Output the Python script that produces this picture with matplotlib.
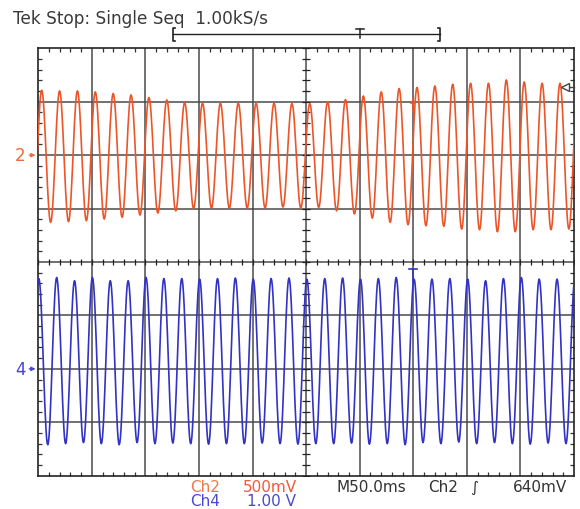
import matplotlib
matplotlib.use('Agg')
import matplotlib.pyplot as plt
import numpy as np
from matplotlib.ticker import MultipleLocator

# scope settings
time_per_div = 50.0        # ms / div  (M50.0ms)
ch2_volts_per_div = 0.5    # 500mV
ch4_volts_per_div = 1.0    # 1.00 V
ch2_position = 2.0         # div above centre
ch4_position = -2.0        # div below centre
trigger_level = 0.64       # V, Ch2 rising
trigger_time = 349.7       # ms from left edge

period_ms = 16.68
ch2_first_peak_ms = 3.17
ch4_first_peak_ms = 0.47

# Ch2 (orange) peak / trough heights per cycle, volts from its ground line
ch2_peaks_v = [0.607, 0.601, 0.601, 0.592, 0.577, 0.564, 0.539, 0.517, 0.493, 0.486,
               0.486, 0.486, 0.486, 0.486, 0.483, 0.483, 0.500, 0.520, 0.554, 0.592,
               0.623, 0.633, 0.648, 0.664, 0.673, 0.673, 0.704, 0.685, 0.673, 0.673]
ch2_troughs_v = [0.629, 0.623, 0.614, 0.598, 0.582, 0.561, 0.542, 0.521, 0.498, 0.495,
                 0.495, 0.495, 0.495, 0.486, 0.495, 0.489, 0.521, 0.551, 0.589, 0.629,
                 0.651, 0.661, 0.666, 0.692, 0.698, 0.717, 0.717, 0.698, 0.698, 0.692]

# Ch4 (blue)
ch4_peaks_v = [1.69, 1.71, 1.65, 1.71, 1.65, 1.65, 1.71, 1.69, 1.69, 1.68, 1.69,
               1.70, 1.68, 1.69, 1.70, 1.68, 1.69, 1.70, 1.68, 1.69, 1.71, 1.68,
               1.68, 1.69, 1.68, 1.65, 1.69, 1.71, 1.68, 1.68, 1.68]
ch4_troughs_v = [1.42, 1.40, 1.38, 1.40, 1.42, 1.38, 1.40, 1.39, 1.40, 1.41,
                 1.40, 1.40, 1.39, 1.40, 1.41, 1.40, 1.40, 1.39, 1.41, 1.40,
                 1.42, 1.38, 1.40, 1.37, 1.40, 1.38, 1.40, 1.41, 1.39, 1.40]

ORANGE = '#ec5528'
BLUE = '#3232c4'


def build_trace(first_peak, peaks, troughs):
    # extremes alternate trough / peak, joined by half cosines
    times = [first_peak - period_ms / 2]
    vals = [-troughs[0]]
    for k, p in enumerate(peaks):
        times.append(first_peak + k * period_ms)
        vals.append(p)
        if k < len(troughs):
            times.append(first_peak + (k + 0.5) * period_ms)
            vals.append(-troughs[k])
    if len(peaks) == len(troughs):
        times.append(first_peak + len(peaks) * period_ms)
        vals.append(peaks[-1])
    t_out, v_out = [], []
    s = np.linspace(0, 1, 16)
    for i in range(len(times) - 1):
        t_out.extend(times[i] + (times[i + 1] - times[i]) * s)
        v_out.extend(vals[i] + (vals[i + 1] - vals[i]) * (1 - np.cos(np.pi * s)) / 2)
    return np.array(t_out), np.array(v_out)


fig = plt.figure(figsize=(5.8, 5.1), dpi=100)
ax = fig.add_axes([38.3 / 580, 1 - 476.7 / 510, (574 - 38.3) / 580, (476.7 - 49.3) / 510])
ax.set_xlim(0, 10 * time_per_div)
ax.set_ylim(-4, 4)

# graticule
for i in range(1, 10):
    ax.axvline(i * time_per_div, color='#4a4a4a', lw=1.1, zorder=1)
for j in range(-3, 4):
    ax.axhline(j, color='#4a4a4a', lw=1.1, zorder=1)
for sp in ax.spines.values():
    sp.set_color('#222222')
    sp.set_linewidth(1.2)
ax.xaxis.set_major_locator(MultipleLocator(time_per_div))
ax.yaxis.set_major_locator(MultipleLocator(1))
ax.xaxis.set_minor_locator(MultipleLocator(time_per_div / 5))
ax.yaxis.set_minor_locator(MultipleLocator(0.2))
ax.tick_params(which='major', length=0)
ax.tick_params(which='minor', direction='in', length=2.9, width=0.9, color='#333333',
               top=True, right=True)
ax.tick_params(which='both', labelbottom=False, labelleft=False)

xt = np.arange(0, 10 * time_per_div + 1, time_per_div / 5)
yt = np.arange(-4, 4.01, 0.2)
ax.plot(xt, np.zeros_like(xt), '|', color='#222222', ms=4.5, mew=0.9, zorder=2)
ax.plot(np.full_like(yt, 5 * time_per_div), yt, '_', color='#222222', ms=5.5, mew=0.9, zorder=2)

# traces
t2, v2 = build_trace(ch2_first_peak_ms, ch2_peaks_v, ch2_troughs_v)
t4, v4 = build_trace(ch4_first_peak_ms, ch4_peaks_v, ch4_troughs_v)
ax.plot(t2, v2 / ch2_volts_per_div + ch2_position, color=ORANGE, lw=1.2, zorder=3)
ax.plot(t4, v4 / ch4_volts_per_div + ch4_position, color=BLUE, lw=1.2, zorder=3)

# trigger point marks on traces
ax.plot([trigger_time, trigger_time], [2.8, 3.05], color=ORANGE, lw=1.2, zorder=4)
ax.plot([trigger_time - 2, trigger_time + 2], [2.98, 2.98], color=ORANGE, lw=1.2, zorder=4)
ax.plot([trigger_time, trigger_time], [-0.35, -0.14], color=BLUE, lw=1.2, zorder=4)
ax.plot([trigger_time - 3.5, trigger_time + 3.5], [-0.14, -0.14], color=BLUE, lw=1.2, zorder=4)

# trigger level arrow at right edge
lvl = trigger_level / ch2_volts_per_div + ch2_position
ax.plot([490, 500], [lvl, lvl], color='#444444', lw=1.0, clip_on=False, zorder=4)
ax.plot([492], [lvl], marker='<', ms=6, mfc='white', mec='#444444', mew=1.0,
        clip_on=False, zorder=5)

# ground markers
for pos, lab, col in [(ch2_position, '2', '#f06a3a'), (ch4_position, '4', '#4646cc')]:
    ax.annotate(lab, xy=(0, pos), xytext=(-18, 0), textcoords='offset pixels',
                ha='center', va='center', fontsize=12, color=col, annotation_clip=False)
    ax.annotate('', xy=(0, pos), xytext=(-12, 0), textcoords='offset pixels',
                arrowprops=dict(arrowstyle='-|>', color=col, lw=0.9, mutation_scale=6),
                annotation_clip=False)

# overlay in screen pixels for status text
ov = fig.add_axes([0, 0, 1, 1], zorder=-1)
ov.set_xlim(0, 580)
ov.set_ylim(510, 0)
ov.axis('off')

ov.text(12.7, 19, 'Tek Stop: Single Seq  1.00kS/s', fontsize=12.2, color='#3a3a3a',
        ha='left', va='center')
ov.plot([172.7, 440], [35, 35], color='#222222', lw=1.0)
ov.plot([174.5, 172.7, 172.7, 174.5], [29, 29, 42, 42], color='#222222', lw=1.2)
ov.plot([438.2, 440, 440, 438.2], [29, 29, 42, 42], color='#222222', lw=1.2)
ov.plot([356, 364], [29.5, 29.5], color='#222222', lw=1.1)
ov.plot([360, 360], [29.5, 39], color='#222222', lw=1.1)

ov.text(190, 488, 'Ch2', fontsize=11, color='#f07848', ha='left', va='center')
ov.text(243, 488, '500mV', fontsize=11, color='#f05a3a', ha='left', va='center')
ov.text(190, 501.5, 'Ch4', fontsize=11, color='#4a4ad0', ha='left', va='center')
ov.text(247, 501.5, '1.00 V', fontsize=11, color='#4a4ad0', ha='left', va='center')
ov.text(336, 488, 'M50.0ms', fontsize=11, color='#333333', ha='left', va='center')
ov.text(428, 488, 'Ch2', fontsize=11, color='#333333', ha='left', va='center')
ov.text(470, 488, '\u222b', fontsize=11, color='#333333', ha='left', va='center')
ov.text(513, 488, '640mV', fontsize=11, color='#333333', ha='left', va='center')

fig.savefig('out.png', dpi=100, facecolor='white')
